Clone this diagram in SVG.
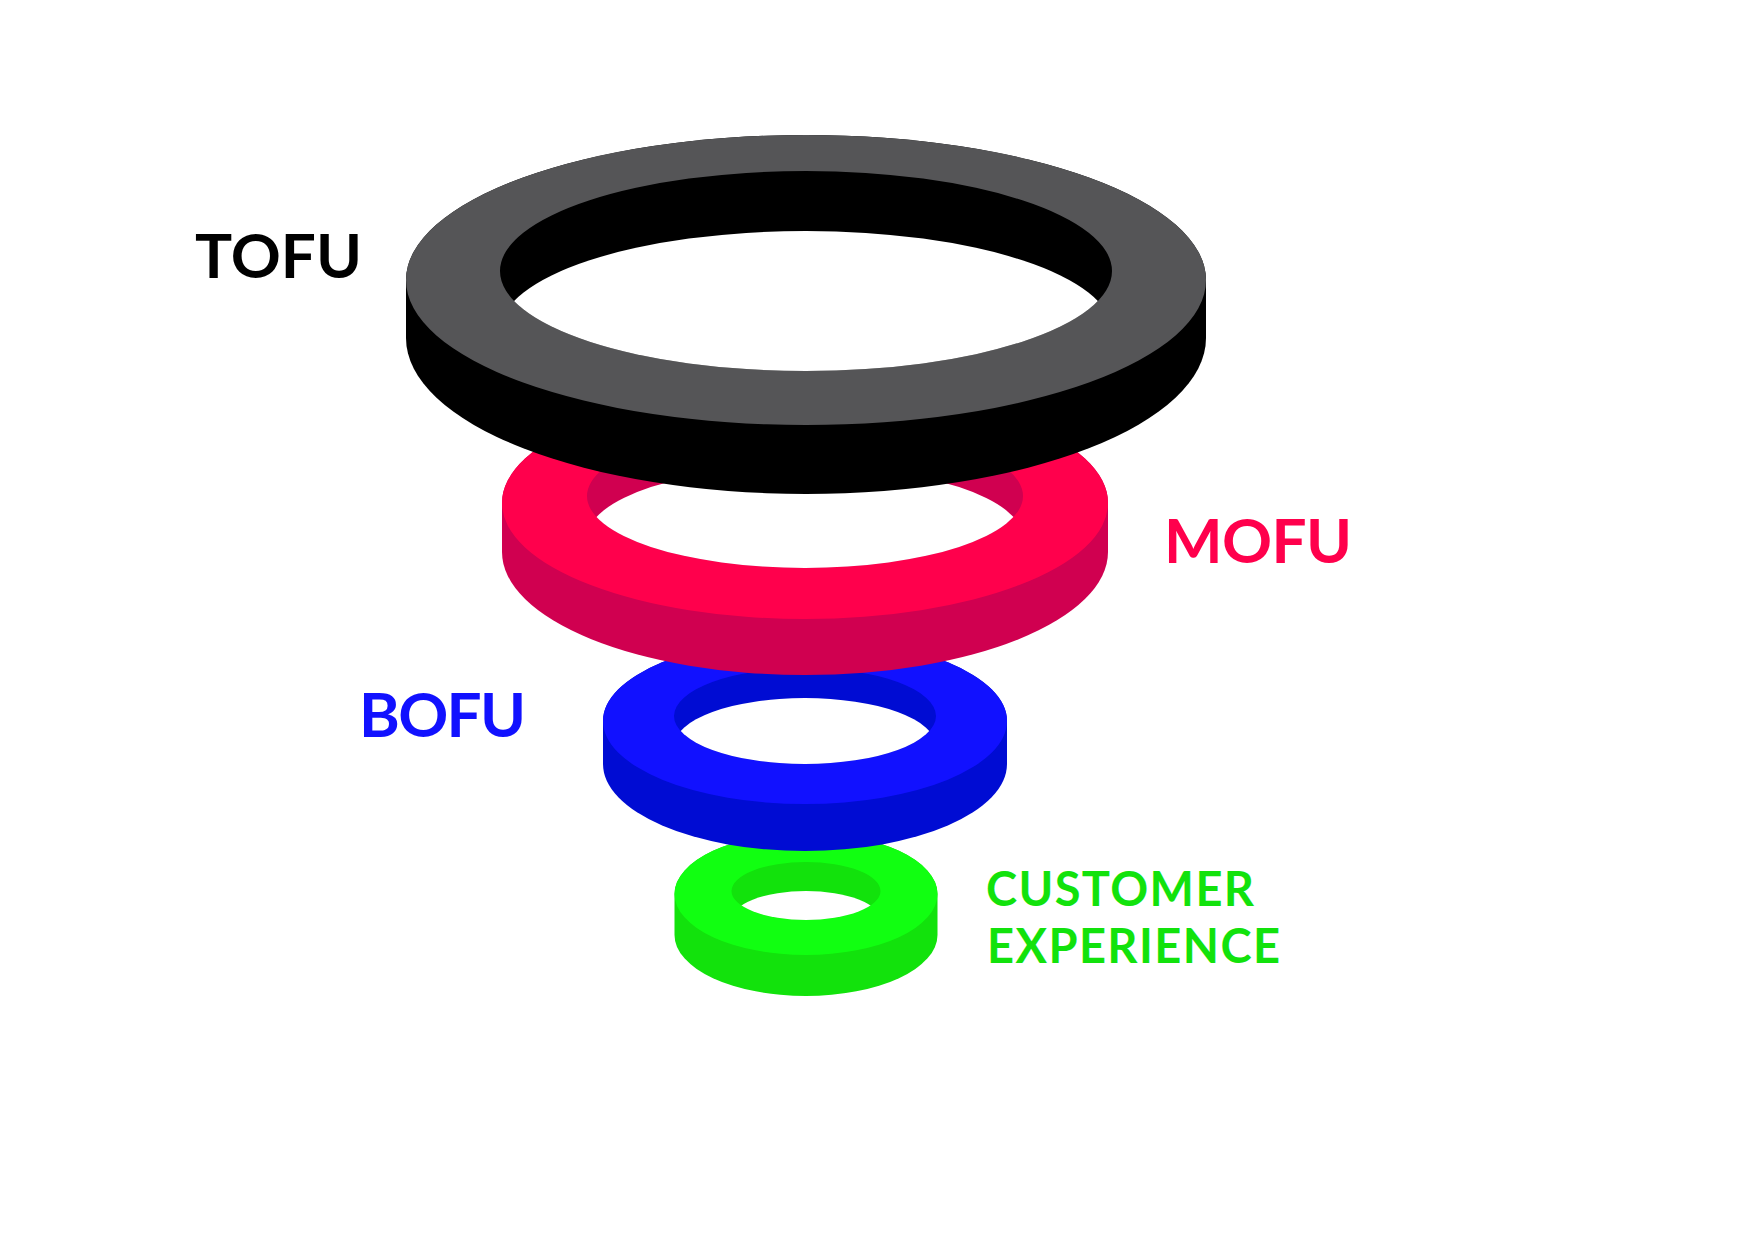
<svg xmlns="http://www.w3.org/2000/svg" width="1755" height="1241" viewBox="0 0 1755 1241">
<style>
.lbl{font-family:Lato,"Liberation Sans",sans-serif;font-weight:700}
.big{font-size:62px}
.small{font-size:47px}
</style>
<defs>
<clipPath id="cTofu"><ellipse cx="806" cy="271" rx="306" ry="100"/></clipPath>
<clipPath id="cMofu"><ellipse cx="805" cy="496" rx="218" ry="72"/></clipPath>
<clipPath id="cBofu"><ellipse cx="805" cy="716" rx="131" ry="48"/></clipPath>
<clipPath id="cCx"><ellipse cx="806" cy="891" rx="74.5" ry="29"/></clipPath>
</defs>
<rect width="1755" height="1241" fill="#ffffff"/>

<g id="cx-ring">
<path d="M674.5,894 L674.5,935 A131.5,61 0 0 0 937.5,935 L937.5,894 A131.5,61 0 0 0 674.5,894 Z" fill="#12E20C"/>
<path d="M674.5,894 A131.5,61 0 1 0 937.5,894 A131.5,61 0 1 0 674.5,894 Z M731.5,891 A74.5,29 0 1 0 880.5,891 A74.5,29 0 1 0 731.5,891 Z" fill="#11FF11" fill-rule="evenodd"/>
<ellipse cx="806" cy="920" rx="74.5" ry="29" fill="#ffffff" clip-path="url(#cCx)"/>
</g>

<g id="bofu-ring">
<path d="M603,721 L603,764 A202,87 0 0 0 1007,764 L1007,721 A202,83 0 0 0 603,721 Z" fill="#000CD3"/>
<path d="M603,721 A202,83 0 1 0 1007,721 A202,83 0 1 0 603,721 Z M674,716 A131,48 0 1 0 936,716 A131,48 0 1 0 674,716 Z" fill="#1111FF" fill-rule="evenodd"/>
<ellipse cx="805" cy="746" rx="131" ry="48" fill="#ffffff" clip-path="url(#cBofu)"/>
</g>

<g id="mofu-ring">
<path d="M502,503 L502,552 A303,123 0 0 0 1108,552 L1108,503 A303,116 0 0 0 502,503 Z" fill="#D00050"/>
<path d="M502,503 A303,116 0 1 0 1108,503 A303,116 0 1 0 502,503 Z M587,496 A218,72 0 1 0 1023,496 A218,72 0 1 0 587,496 Z" fill="#FF004C" fill-rule="evenodd"/>
<ellipse cx="805" cy="538" rx="218" ry="72" fill="#ffffff" clip-path="url(#cMofu)"/>
</g>

<g id="tofu-ring">
<path d="M406,280 L406,338 A400,156 0 0 0 1206,338 L1206,280 A400,145 0 0 0 406,280 Z" fill="#000000"/>
<path d="M406,280 A400,145 0 1 0 1206,280 A400,145 0 1 0 406,280 Z M500,271 A306,100 0 1 0 1112,271 A306,100 0 1 0 500,271 Z" fill="#555557" fill-rule="evenodd"/>
<ellipse cx="806" cy="331" rx="306" ry="100" fill="#ffffff" clip-path="url(#cTofu)"/>
</g>

<g id="labels">
<text id="tofu-label" class="lbl big" x="195" y="278" textLength="167" fill="#000000">TOFU</text>
<text id="mofu-label" class="lbl big" x="1164" y="563" textLength="188" fill="#FF004C">MOFU</text>
<text id="bofu-label" class="lbl big" x="359" y="737" textLength="167" fill="#1111FF">BOFU</text>
<text id="cx-label" class="lbl small" fill="#12E20C"><tspan x="986" y="906" textLength="268">CUSTOMER</tspan><tspan x="987" y="963" textLength="293">EXPERIENCE</tspan></text>
</g>

<g id="connectors"/>
</svg>
